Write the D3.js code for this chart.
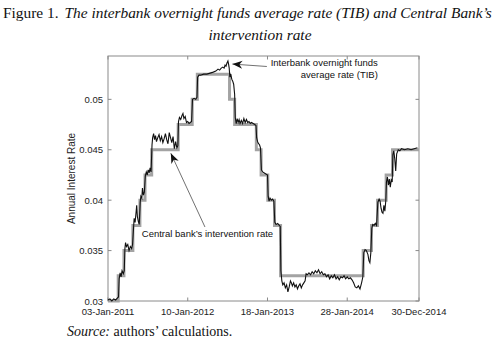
<!DOCTYPE html>
<html lang="en">
<head>
    <meta charset="UTF-8">
    <title>TIB and intervention rate</title>
    <script src="https://d3js.org/d3.v7.min.js"></script>
    <style>
        body { margin: 0; background: #fff; }
        svg { display: block; }
        .tick-label { font-family: "Liberation Sans", Arial, sans-serif; font-size: 9.5px; fill: #222; }
        .note { font-family: "Liberation Sans", Arial, sans-serif; font-size: 9.5px; fill: #111; }
        .title { font-family: "Liberation Serif", "Times New Roman", serif; fill: #111; }
    </style>
</head>
<body>
<svg width="498" height="341"></svg>
<script>
    // x axis is the trading-day index, labelled with dates
    const xTicks = [0, 250, 500, 750, 975];
    const xTickLabels = ["03-Jan-2011", "10-Jan-2012", "18-Jan-2013", "28-Jan-2014", "30-Dec-2014"];
    const yTicks = [0.03, 0.035, 0.04, 0.045, 0.05];
    const yTickLabels = ["0.03", "0.035", "0.04", "0.045", "0.05"];

    // Central bank intervention rate: [start day, rate]
    const policyStart = [0, 32, 50, 78, 100, 116, 137, 220, 264, 280, 381, 397, 465, 480, 501, 522, 541, 800, 826, 845, 872, 892, 975];
    const policyRate = [0.03, 0.0325, 0.035, 0.0375, 0.04, 0.0425, 0.045, 0.0475, 0.05, 0.0525, 0.05, 0.0475, 0.045, 0.0425, 0.04, 0.0375, 0.0325, 0.035, 0.0375, 0.04, 0.0425, 0.045, 0.045];

    // TIB: [day, rate]
    const tib = [
        [0,0.0301],[6,0.0302],[12,0.0300],[18,0.0302],[24,0.0301],[30,0.0303],[33,0.0304],[35,0.0322],[38,0.0328],[41,0.0324],
        [44,0.0330],[48,0.0327],[51,0.0330],[53,0.0352],[55,0.0358],[58,0.0354],[62,0.0356],[66,0.0350],[70,0.0354],[74,0.0352],
        [77,0.0356],[80,0.0372],[82,0.0382],[85,0.0378],[88,0.0388],[90,0.0395],[92,0.0384],[95,0.0379],[98,0.0376],[101,0.0398],
        [103,0.0404],[106,0.0402],[108,0.0412],[111,0.0405],[114,0.0408],[117,0.0424],[120,0.0428],[123,0.0425],[126,0.0430],[129,0.0427],
        [132,0.0432],[135,0.0428],[138,0.0455],[140,0.0462],[143,0.0466],[146,0.0460],[149,0.0464],[152,0.0458],[156,0.0462],[160,0.0465],
        [164,0.0459],[168,0.0463],[172,0.0457],[176,0.0461],[180,0.0466],[184,0.0460],[188,0.0456],[192,0.0467],[196,0.0462],[200,0.0457],
        [204,0.0463],[208,0.0451],[212,0.0458],[216,0.0452],[219,0.0454],[221,0.0478],[224,0.0482],[228,0.0480],[232,0.0484],[235,0.0486],
        [238,0.0481],[242,0.0483],[246,0.0477],[250,0.0478],[254,0.0476],[258,0.0477],[262,0.0478],[265,0.0500],[270,0.0501],[275,0.0500],
        [279,0.0502],[281,0.0522],[285,0.0524],[290,0.0524],[300,0.0525],[310,0.0525],[320,0.0526],[330,0.0527],[338,0.0528],[345,0.0530],
        [350,0.0529],[355,0.0531],[360,0.0532],[364,0.0531],[367,0.0534],[370,0.0533],[373,0.0536],[376,0.0538],[378,0.0535],[380,0.0531],
        [382,0.0522],[385,0.0525],[388,0.0520],[391,0.0518],[394,0.0515],[397,0.0505],[399,0.0482],[402,0.0476],[405,0.0481],[408,0.0477],
        [411,0.0480],[414,0.0476],[418,0.0479],[422,0.0476],[426,0.0481],[430,0.0477],[434,0.0480],[438,0.0477],[442,0.0478],[446,0.0476],
        [450,0.0477],[455,0.0476],[460,0.0475],[464,0.0474],[466,0.0462],[469,0.0458],[472,0.0456],[475,0.0455],[478,0.0452],[481,0.0430],
        [485,0.0428],[490,0.0427],[495,0.0426],[500,0.0425],[502,0.0404],[505,0.0399],[508,0.0402],[512,0.0400],[516,0.0401],[520,0.0399],
        [523,0.0378],[527,0.0376],[532,0.0377],[537,0.0375],[540,0.0374],[542,0.0330],[545,0.0320],[548,0.0316],[552,0.0318],[556,0.0313],
        [560,0.0316],[564,0.0309],[568,0.0314],[572,0.0320],[575,0.0318],[578,0.0315],[582,0.0318],[586,0.0314],[590,0.0316],[594,0.0312],
        [598,0.0315],[602,0.0317],[606,0.0313],[610,0.0316],[614,0.0318],[618,0.0320],[621,0.0327],[625,0.0326],[630,0.0328],[635,0.0326],
        [640,0.0329],[645,0.0327],[650,0.0330],[655,0.0328],[660,0.0331],[665,0.0327],[670,0.0329],[675,0.0326],[680,0.0327],[685,0.0324],
        [690,0.0326],[695,0.0322],[700,0.0325],[705,0.0323],[710,0.0326],[715,0.0322],[720,0.0324],[725,0.0321],[730,0.0324],[735,0.0323],
        [740,0.0325],[745,0.0322],[750,0.0324],[755,0.0322],[760,0.0323],[765,0.0321],[770,0.0318],[775,0.0314],[780,0.0313],[785,0.0315],
        [790,0.0312],[795,0.0318],[799,0.0324],[802,0.0348],[806,0.0351],[810,0.0350],[815,0.0346],[818,0.0340],[821,0.0338],[824,0.0348],
        [827,0.0372],[830,0.0376],[834,0.0375],[838,0.0377],[842,0.0375],[846,0.0398],[850,0.0401],[853,0.0399],[856,0.0392],[859,0.0388],
        [862,0.0387],[865,0.0395],[868,0.0389],[871,0.0400],[873,0.0418],[876,0.0423],[879,0.0415],[882,0.0421],[885,0.0413],[888,0.0420],
        [891,0.0418],[893,0.0445],[896,0.0449],[899,0.0441],[902,0.0429],[905,0.0446],[910,0.0450],[915,0.0449],[920,0.0451],[930,0.0450],
        [940,0.0451],[950,0.0450],[960,0.0451],[970,0.0452]
    ];

    const plot = { left: 108, right: 419, top: 56, bottom: 301 };
    const svg = d3.select("svg");

    const x = d3.scaleLinear().domain([0, 975]).range([plot.left, plot.right]);
    const y = d3.scaleLinear().domain([0.03, 0.0543]).range([plot.bottom, plot.top]);

    // title, scaled so that the first line spans the page width
    function fitText(sel, width) {
        const w = sel.node().getBBox().width;
        const fs = parseFloat(sel.style("font-size"));
        sel.style("font-size", (fs * width / w) + "px");
    }
    const t1 = svg.append("text").attr("class", "title").attr("x", 3).attr("y", 18).style("font-size", "14.5px");
    t1.append("tspan").text("Figure 1.");
    t1.append("tspan").attr("dx", 6).style("font-style", "italic")
        .text("The interbank overnight funds average rate (TIB) and Central Bank\u2019s");
    fitText(t1, 490);
    svg.append("text").attr("class", "title").attr("x", 260).attr("y", 40).attr("text-anchor", "middle")
        .style("font-size", t1.style("font-size")).style("font-style", "italic").text("intervention rate");

    // axes box with inward ticks, MATLAB style
    const axisColor = "#8a8a8a";
    svg.append("rect")
        .attr("x", plot.left).attr("y", plot.top)
        .attr("width", plot.right - plot.left).attr("height", plot.bottom - plot.top)
        .attr("fill", "none").attr("stroke", axisColor).attr("stroke-width", 1);

    const tickLen = 3.5;
    xTicks.forEach((d, i) => {
        svg.append("line").attr("x1", x(d)).attr("x2", x(d)).attr("y1", plot.bottom).attr("y2", plot.bottom - tickLen).attr("stroke", axisColor);
        svg.append("line").attr("x1", x(d)).attr("x2", x(d)).attr("y1", plot.top).attr("y2", plot.top + tickLen).attr("stroke", axisColor);
        svg.append("text").attr("class", "tick-label").attr("x", x(d)).attr("y", plot.bottom + 14)
            .attr("text-anchor", "middle").text(xTickLabels[i]);
    });
    yTicks.forEach((d, i) => {
        svg.append("line").attr("x1", plot.left).attr("x2", plot.left + tickLen).attr("y1", y(d)).attr("y2", y(d)).attr("stroke", axisColor);
        svg.append("line").attr("x1", plot.right).attr("x2", plot.right - tickLen).attr("y1", y(d)).attr("y2", y(d)).attr("stroke", axisColor);
        svg.append("text").attr("class", "tick-label").attr("x", plot.left - 5).attr("y", y(d) + 3.5)
            .attr("text-anchor", "end").text(yTickLabels[i]);
    });

    svg.append("text").attr("class", "tick-label")
        .attr("transform", `translate(75,${(plot.top + plot.bottom) / 2}) rotate(-90)`)
        .attr("text-anchor", "middle").style("font-size", "10px").text("Annual Interest Rate");

    // intervention rate, step line
    const policy = policyStart.map((d, i) => [d, policyRate[i]]);
    svg.append("path").datum(policy)
        .attr("fill", "none").attr("stroke", "#a3a3a3").attr("stroke-width", 3)
        .attr("d", d3.line().x(d => x(d[0])).y(d => y(d[1])).curve(d3.curveStepAfter));

    // TIB
    svg.append("path").datum(tib)
        .attr("fill", "none").attr("stroke", "#111").attr("stroke-width", 1.1)
        .attr("d", d3.line().x(d => x(d[0])).y(d => y(d[1])));

    // annotations
    svg.append("defs").append("marker")
        .attr("id", "head").attr("viewBox", "0 -5 10 10")
        .attr("refX", 10).attr("refY", 0)
        .attr("markerWidth", 10).attr("markerHeight", 10).attr("markerUnits", "userSpaceOnUse")
        .attr("orient", "auto")
        .append("path").attr("d", "M0,-4 L10,0 L0,4 L3,0 Z").attr("fill", "#111");

    const arrows = [
        { from: [498, 0.05326], to: [390, 0.0535] },
        { from: [304, 0.03734], to: [197, 0.04465] }
    ];
    arrows.forEach(a => {
        svg.append("line")
            .attr("x1", x(a.from[0])).attr("y1", y(a.from[1]))
            .attr("x2", x(a.to[0])).attr("y2", y(a.to[1]))
            .attr("stroke", "#333").attr("stroke-width", 0.7)
            .attr("marker-end", "url(#head)");
    });

    const notes = [
        { text: "Interbank overnight funds", at: [846, 0.05330], anchor: "end" },
        { text: "average rate (TIB)", at: [846, 0.05216], anchor: "end" },
        { text: "Central bank\u2019s intervention rate", at: [106, 0.03630], anchor: "start" }
    ];
    notes.forEach(n => {
        svg.append("text").attr("class", "note")
            .attr("x", x(n.at[0])).attr("y", y(n.at[1]))
            .attr("text-anchor", n.anchor).text(n.text);
    });

    // source line
    const src = svg.append("text").attr("class", "title").attr("x", 67).attr("y", 336).style("font-size", "14px");
    src.append("tspan").style("font-style", "italic").text("Source:");
    src.append("tspan").text(" authors\u2019 calculations.");
</script>
</body>
</html>
